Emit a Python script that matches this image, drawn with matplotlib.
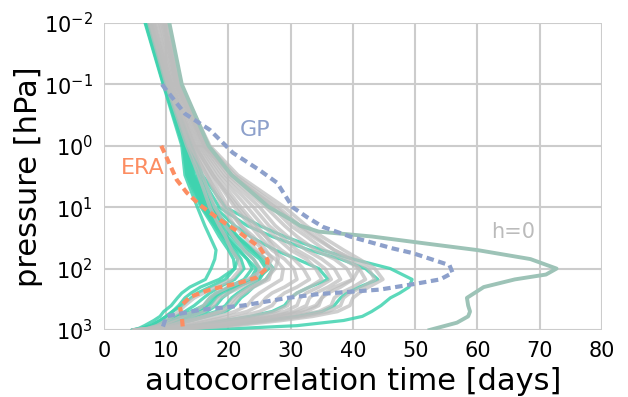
import matplotlib
matplotlib.use("Agg")
import matplotlib.pyplot as plt
from matplotlib.ticker import NullLocator, FixedLocator

# pressure levels [hPa]
levels = [0.01, 0.1, 1, 3, 10, 20, 30, 50, 70, 100, 150, 200, 250, 300, 400, 500, 600, 700, 850, 950, 1000]

# grey ensemble (autocorrelation time [days] at each level)
grey_1 = [7.2, 10.0, 13.3, 15.2, 17.0, 18.5, 19.5, 20.5, 21.5, 22.0, 20.5, 18.0, 16.0, 14.5, 13.0, 12.0, 11.0, 10.0, 8.5, 7.0, 4.5]
grey_2 = [7.4, 10.2, 13.6, 15.8, 17.8, 19.5, 20.8, 22.5, 24.0, 25.0, 24.5, 22.0, 20.0, 18.5, 17.5, 16.0, 14.0, 12.0, 9.5, 7.5, 4.8]
grey_3 = [7.6, 10.4, 14.0, 16.5, 19.0, 21.0, 22.5, 24.5, 26.0, 27.0, 26.5, 24.0, 22.5, 21.5, 20.5, 19.0, 16.5, 14.0, 11.0, 8.5, 5.0]
grey_4 = [7.9, 10.6, 14.4, 17.0, 20.0, 22.0, 23.5, 25.5, 27.5, 28.8, 28.5, 26.5, 25.0, 24.0, 23.0, 21.0, 18.5, 15.5, 12.0, 9.0, 5.0]
grey_5 = [8.2, 10.8, 14.7, 17.5, 21.0, 23.5, 25.0, 27.0, 29.0, 30.5, 31.0, 29.0, 27.0, 26.0, 25.0, 23.0, 20.0, 17.0, 13.0, 9.5, 5.2]
grey_6 = [8.5, 11.0, 15.0, 18.0, 22.0, 24.5, 26.0, 28.5, 30.5, 32.0, 33.0, 31.0, 29.0, 28.0, 27.0, 25.0, 22.0, 18.5, 14.0, 10.0, 5.2]
grey_7 = [8.8, 11.2, 15.3, 18.5, 23.0, 25.5, 27.5, 30.0, 32.5, 34.0, 35.0, 33.0, 31.0, 30.0, 29.5, 27.5, 24.0, 20.0, 15.0, 10.5, 5.3]
grey_8 = [9.0, 11.4, 15.6, 19.0, 24.0, 26.5, 28.5, 31.0, 33.5, 35.5, 36.5, 34.5, 32.5, 31.5, 31.0, 29.0, 25.5, 21.0, 16.0, 11.0, 5.4]
grey_9 = [9.3, 11.6, 15.9, 19.5, 25.0, 27.5, 29.5, 32.5, 35.0, 37.0, 38.0, 36.0, 34.0, 33.0, 32.5, 30.5, 27.0, 22.5, 17.0, 11.5, 5.5]
grey_10 = [9.6, 11.8, 16.2, 20.0, 26.0, 29.0, 31.0, 34.0, 37.0, 39.0, 40.0, 38.0, 36.0, 35.0, 34.5, 32.5, 28.5, 24.0, 18.0, 12.0, 5.5]
grey_11 = [9.8, 11.9, 16.5, 20.5, 27.0, 30.0, 32.5, 35.5, 38.5, 41.0, 42.0, 40.0, 38.0, 37.0, 36.5, 34.5, 30.5, 25.5, 19.0, 12.5, 5.6]
grey_12 = [10.0, 12.0, 16.7, 21.0, 28.0, 31.5, 34.0, 37.0, 40.0, 42.5, 43.5, 41.5, 39.5, 38.5, 38.0, 36.0, 32.0, 27.0, 20.0, 13.0, 5.7]
grey_13 = [10.3, 12.2, 17.0, 21.5, 29.0, 32.5, 35.0, 38.5, 41.0, 43.5, 44.8, 42.5, 41.0, 40.0, 39.5, 37.5, 33.5, 28.5, 21.0, 13.5, 5.8]
grey_14 = [8.0, 10.7, 14.5, 17.5, 21.5, 24.0, 26.0, 27.5, 28.0, 27.5, 26.0, 23.5, 22.0, 21.0, 20.0, 18.5, 16.0, 13.5, 10.5, 8.0, 5.0]
grey_15 = [7.5, 10.3, 13.8, 16.5, 19.5, 22.0, 24.0, 26.0, 27.0, 26.0, 23.0, 20.0, 18.0, 17.0, 16.0, 14.5, 12.5, 11.0, 9.0, 7.0, 4.8]
grey_16 = [9.5, 11.7, 16.1, 20.5, 27.5, 31.0, 33.5, 37.0, 39.5, 41.0, 40.0, 37.0, 35.5, 35.0, 34.0, 31.5, 27.5, 23.0, 17.5, 12.0, 5.5]
grey_runs = [grey_1, grey_2, grey_3, grey_4, grey_5, grey_6, grey_7, grey_8,
             grey_9, grey_10, grey_11, grey_12, grey_13, grey_14, grey_15, grey_16]

# turquoise ensemble
turq_1 = [6.6, 9.5, 12.5, 13.0, 15.0, 16.2, 17.0, 18.0, 17.8, 17.2, 16.3, 13.8, 12.5, 11.8, 10.8, 9.6, 9.0, 8.0, 6.5, 5.5, 4.5]
turq_2 = [6.7, 9.6, 12.7, 13.3, 15.6, 17.5, 18.5, 20.0, 20.8, 21.0, 19.5, 17.0, 15.0, 14.0, 12.5, 11.0, 10.0, 9.0, 7.5, 6.0, 4.5]
turq_3 = [6.8, 9.7, 12.9, 13.6, 16.0, 18.0, 19.2, 21.0, 22.0, 22.5, 21.0, 18.5, 17.0, 16.0, 14.5, 13.0, 11.5, 10.0, 8.0, 6.5, 4.6]
turq_4 = [6.9, 9.8, 13.0, 13.8, 16.3, 18.5, 19.8, 21.8, 23.0, 23.8, 22.5, 20.0, 18.5, 17.5, 16.5, 15.0, 13.0, 11.0, 8.5, 6.8, 4.7]
turq_5 = [7.0, 9.9, 13.2, 14.0, 16.6, 19.0, 20.5, 22.5, 24.0, 25.0, 24.0, 21.5, 20.0, 19.0, 18.0, 16.5, 14.0, 12.0, 9.0, 7.0, 4.7]
turq_6 = [7.1, 10.0, 13.3, 14.2, 16.9, 19.5, 21.0, 23.2, 25.0, 26.0, 25.0, 23.0, 21.5, 20.5, 19.5, 18.0, 15.5, 13.0, 10.0, 7.5, 4.8]
turq_7 = [7.2, 10.1, 13.5, 14.5, 17.3, 20.0, 21.5, 24.0, 26.0, 27.2, 26.0, 24.0, 23.0, 22.0, 21.0, 19.5, 16.5, 14.0, 10.5, 8.0, 4.8]
turq_8 = [6.7, 9.6, 12.8, 13.4, 15.8, 17.8, 19.0, 20.5, 21.5, 21.0, 18.5, 15.5, 14.0, 13.0, 12.0, 11.0, 10.0, 9.0, 7.5, 6.0, 4.5]
turq_9 = [6.9, 9.8, 13.0, 13.9, 16.2, 18.2, 19.5, 21.5, 23.0, 24.5, 23.5, 20.5, 18.0, 17.0, 16.0, 14.0, 12.0, 10.5, 8.5, 6.5, 4.6]
turq_10 = [7.3, 10.1, 13.7, 15.0, 17.8, 21.0, 23.5, 27.5, 31.0, 34.5, 36.0, 33.0, 31.0, 30.0, 29.0, 27.0, 23.5, 19.5, 14.5, 10.0, 5.0]
turq_11 = [7.4, 10.2, 14.0, 15.4, 18.5, 23.0, 27.0, 33.0, 38.0, 42.0, 44.0, 41.0, 39.0, 38.0, 37.0, 35.0, 31.0, 26.0, 19.0, 12.5, 5.2]
turq_12 = [7.5, 10.3, 14.1, 15.8, 19.5, 25.0, 29.0, 35.0, 40.0, 46.0, 49.5, 49.0, 47.5, 46.0, 44.5, 43.0, 41.5, 38.5, 31.0, 21.0, 4.8]
turq_13 = [7.1, 10.0, 13.4, 14.4, 17.0, 19.7, 21.3, 23.8, 25.5, 26.5, 24.5, 21.0, 19.0, 18.0, 17.0, 15.5, 13.5, 11.5, 9.0, 7.0, 4.7]
turq_runs = [turq_1, turq_2, turq_3, turq_4, turq_5, turq_6, turq_7, turq_8,
             turq_9, turq_10, turq_11, turq_12, turq_13]

# h=0 run
h0_levels = [0.01, 0.1, 1, 3, 10, 16, 20, 25, 30, 40, 50, 70, 100, 125, 150, 200, 300, 400, 500, 600, 760, 1000]
h0_values = [10.5, 12.5, 16.8, 20.5, 26.5, 30.0, 31.5, 34.5, 43.0, 52.5, 60.0, 68.5, 72.7, 71.0, 66.0, 61.0, 58.3, 58.5, 58.8, 58.5, 56.7, 52.3]

# ERA reference
era_levels = [1, 3.6, 5.8, 9.2, 16, 26, 45, 72, 100, 140, 170, 220, 290, 420, 610, 1000]
era_values = [9.2, 11.7, 13.3, 15.4, 18.6, 21.8, 25.0, 26.3, 26.1, 24.5, 21.8, 17.0, 13.8, 12.2, 12.5, 12.7]

# GP reference
gp_levels = [0.1, 0.3, 0.55, 1.3, 2.5, 4, 10, 14.5, 21, 30, 47, 56, 88, 117, 150, 180, 220, 260, 300, 400, 470, 600, 1000]
gp_values = [9.3, 13.0, 17.0, 20.7, 25.0, 27.8, 30.3, 32.6, 35.2, 39.5, 46.4, 49.6, 55.5, 56.0, 54.0, 49.6, 44.3, 34.5, 29.5, 22.3, 15.4, 10.0, 9.3]

x_ticks = [0, 10, 20, 30, 40, 50, 60, 70, 80]
y_ticks = [1e-2, 1e-1, 1e0, 1e1, 1e2, 1e3]

fig = plt.figure(figsize=(6.28, 3.97), dpi=100)
ax = fig.add_axes([0.1656, 0.1688, 0.793, 0.7733])

for run in turq_runs:
    ax.plot(run, levels, color="#3fd3af", lw=2.3, alpha=0.85, zorder=2, solid_capstyle="round")
for run in grey_runs:
    ax.plot(run, levels, color="#bdbdbd", lw=2.6, alpha=0.72, zorder=3, solid_capstyle="round")
ax.plot(h0_values, h0_levels, color="#9dc3b7", lw=2.8, zorder=4)
ax.plot(era_values, era_levels, color="#fc8d62", lw=3.0, dashes=(1.8, 1.1), zorder=5)
ax.plot(gp_values, gp_levels, color="#8da0cb", lw=3.0, dashes=(1.8, 1.1), zorder=5)

ax.text(24.2, 0.55, "GP", color="#8da0cb", fontsize=16, ha="center", va="center")
ax.text(6.3, 2.3, "ERA", color="#fc8d62", fontsize=16, ha="center", va="center")
ax.text(65.7, 25, "h=0", color="#bbbbbb", fontsize=15, ha="center", va="center")

ax.set_yscale("log")
ax.set_ylim(1000, 0.01)
ax.set_xlim(0, 80)
ax.xaxis.set_major_locator(FixedLocator(x_ticks))
ax.yaxis.set_major_locator(FixedLocator(y_ticks))
ax.yaxis.set_minor_locator(NullLocator())
ax.grid(True, color="#cccccc", lw=1.5, zorder=0)
ax.set_axisbelow(True)
for s in ax.spines.values():
    s.set_visible(False)
ax.tick_params(length=0, labelsize=15, pad=8)

ax.set_xlabel("autocorrelation time [days]", fontsize=22)
ax.set_ylabel("pressure [hPa]", fontsize=22)
ax.xaxis.set_label_coords(0.5, -0.122)
ax.yaxis.set_label_coords(-0.122, 0.5)

fig.savefig("out.png", dpi=100)
